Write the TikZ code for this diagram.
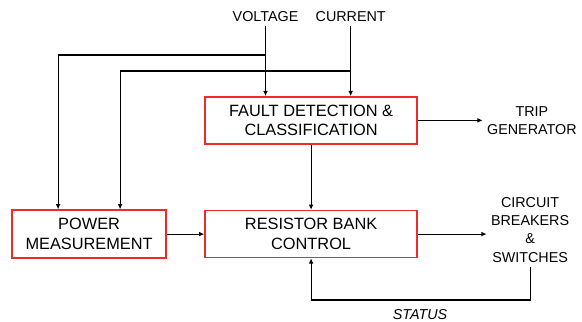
\documentclass[tikz,border=0pt]{standalone}
\usepackage{fontspec}
\setmainfont{Liberation Sans}
\usepackage{tikz}
\usetikzlibrary{arrows.meta, positioning, calc}
\definecolor{boxRed}{HTML}{EE2A2A}

\begin{document}
\begin{tikzpicture}[
  block/.style={draw=boxRed, line width=1.3pt, fill=white, minimum width=7.07cm, minimum height=1.57cm, inner sep=0pt, align=center, font=\fontsize{15.5}{18.5}\selectfont},
  label/.style={inner sep=4pt, align=center, font=\fontsize{13.6}{17.4}\selectfont},
  wire/.style={line width=1pt},
  arrow/.style={wire, -{Latex[length=5pt, width=4.5pt]}},
]
  \useasboundingbox (0,0) rectangle (19.4,10.733);

  % Inputs
  \node[label] (volt) at (8.85, 10.17) {VOLTAGE};
  \node[label] (curr) at (11.69, 10.17) {CURRENT};

  % Blocks
  \node[block] (fault) at (10.37, 6.72) {FAULT DETECTION \&\\CLASSIFICATION};
  \node[block] (bank) at (10.37, 2.93) {RESISTOR BANK\\CONTROL};
  \node[block, minimum width=5.13cm, minimum height=1.6cm] (power) at (2.97, 2.93) {POWER\\MEASUREMENT};

  % Outputs
  \node[label] (trip) at (17.73, 6.72) {TRIP\\GENERATOR};
  \node[label] (breaker) at (17.67, 3.07) {CIRCUIT\\BREAKERS\\\&\\SWITCHES};
  \node[label, font=\fontsize{13.6}{17.4}\selectfont\itshape] (status) at (14.0, 0.25) {STATUS};

  % Taps
  \coordinate (vtap) at (volt.south |- 0,8.9);
  \coordinate (ctap) at (curr.south |- 0,8.367);
  \coordinate (loop) at (breaker.south |- 0,0.733);

  % Connections
  \draw[arrow] (volt.south) -- (volt.south |- fault.north);
  \draw[arrow] (curr.south) -- (curr.south |- fault.north);
  \draw[arrow] (vtap) -| ([xshift=-1.033cm]power.north);
  \draw[arrow] (ctap) -| ([xshift=1.033cm]power.north);
  \draw[arrow] (fault.east) -- (trip.west |- fault.east);
  \draw[arrow] (fault.south) -- (bank.north);
  \draw[arrow] (power.east) -- (bank.west);
  \draw[arrow] (bank.east) -- (breaker.west |- bank.east);
  \draw[arrow] (breaker.south) -- (loop) -| (bank.south);
\end{tikzpicture}
\end{document}
